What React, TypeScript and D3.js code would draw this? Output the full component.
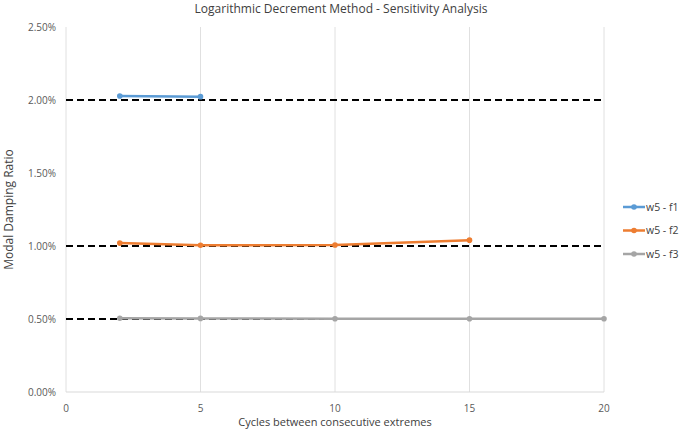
import React, { useEffect, useRef } from 'react';
import * as d3 from 'd3';

const xTicks = [0, 5, 10, 15, 20];
const yTicks = [0, 0.005, 0.01, 0.015, 0.02, 0.025];
const refLevels = [0.02, 0.01, 0.005];

const f1X = [2, 5];
const f1Y = [0.02027, 0.02023];
const f2X = [2, 5, 10, 15];
const f2Y = [0.0102, 0.01005, 0.01007, 0.0104];
const f3X = [2, 5, 10, 15, 20];
const f3Y = [0.00505, 0.00504, 0.00502, 0.00502, 0.00502];

const seriesNames = ['w5 - f1', 'w5 - f2', 'w5 - f3'];
const seriesColors = ['#5b9bd5', '#ed7d31', '#a5a5a5'];

export default function App() {
  const svgRef = useRef<SVGSVGElement>(null);

  useEffect(() => {
    if (!svgRef.current) return;
    const width = 685;
    const height = 432;
    const margin = { top: 27, right: 81, bottom: 40, left: 66 };
    const w = width - margin.left - margin.right;
    const h = height - margin.top - margin.bottom;
    const font = "'Open Sans', sans-serif";

    const svg = d3.select(svgRef.current);
    svg.selectAll('*').remove();

    const x = d3.scaleLinear().domain([0, 20]).range([0, w]);
    const y = d3.scaleLinear().domain([0, 0.025]).range([h, 0]);

    svg.append('rect').attr('width', width).attr('height', height).attr('fill', '#fff');

    svg.append('text')
      .attr('x', margin.left + w / 2 + 6)
      .attr('y', 13)
      .attr('text-anchor', 'middle')
      .attr('font-family', font)
      .attr('font-size', 12)
      .attr('fill', '#404040')
      .text('Logarithmic Decrement Method - Sensitivity Analysis');

    const g = svg.append('g').attr('transform', `translate(${margin.left},${margin.top})`);

    // vertical grid
    g.selectAll('.vgrid')
      .data(xTicks)
      .enter().append('line')
      .attr('x1', d => x(d)).attr('x2', d => x(d))
      .attr('y1', 0).attr('y2', h)
      .attr('stroke', '#e0e0e0')
      .attr('stroke-width', 1);

    // bottom axis line
    g.append('line')
      .attr('x1', 0).attr('x2', w)
      .attr('y1', h).attr('y2', h)
      .attr('stroke', '#d9d9d9');

    // x tick labels
    g.selectAll('.xt')
      .data(xTicks)
      .enter().append('text')
      .attr('x', d => x(d))
      .attr('y', h + 20)
      .attr('text-anchor', 'middle')
      .attr('font-family', font)
      .attr('font-size', 10)
      .attr('fill', '#595959')
      .text(d => d);

    // y tick labels
    g.selectAll('.yt')
      .data(yTicks)
      .enter().append('text')
      .attr('x', -10)
      .attr('y', d => y(d))
      .attr('dy', '0.35em')
      .attr('text-anchor', 'end')
      .attr('font-family', font)
      .attr('font-size', 10)
      .attr('fill', '#595959')
      .text(d => d3.format('.2%')(d));

    // reference dashed lines
    g.selectAll('.ref')
      .data(refLevels)
      .enter().append('line')
      .attr('x1', 0).attr('x2', w)
      .attr('y1', d => y(d)).attr('y2', d => y(d))
      .attr('stroke', '#000')
      .attr('stroke-width', 2)
      .attr('stroke-dasharray', '7,4');

    const series = [
      { xs: f1X, ys: f1Y },
      { xs: f2X, ys: f2Y },
      { xs: f3X, ys: f3Y },
    ];

    const line = d3.line<[number, number]>().x(d => x(d[0])).y(d => y(d[1]));

    series.forEach((s, i) => {
      const pts: [number, number][] = s.xs.map((v, j) => [v, s.ys[j]]);
      g.append('path')
        .attr('d', line(pts)!)
        .attr('fill', 'none')
        .attr('stroke', seriesColors[i])
        .attr('stroke-width', 2.5)
        .attr('stroke-linejoin', 'round');
      g.selectAll(`.pt${i}`)
        .data(pts)
        .enter().append('circle')
        .attr('cx', d => x(d[0]))
        .attr('cy', d => y(d[1]))
        .attr('r', 2.8)
        .attr('fill', seriesColors[i]);
    });

    // y axis title
    svg.append('text')
      .attr('transform', `translate(13,${margin.top + h / 2}) rotate(-90)`)
      .attr('text-anchor', 'middle')
      .attr('font-family', font)
      .attr('font-size', 12)
      .attr('fill', '#404040')
      .text('Modal Damping Ratio');

    // x axis title
    svg.append('text')
      .attr('x', margin.left + w / 2)
      .attr('y', height - 6)
      .attr('text-anchor', 'middle')
      .attr('font-family', font)
      .attr('font-size', 11)
      .attr('fill', '#404040')
      .text('Cycles between consecutive extremes');

    // legend
    const legend = svg.append('g').attr('transform', 'translate(623,207)');
    seriesNames.forEach((name, i) => {
      const ly = i * 23.5;
      legend.append('line')
        .attr('x1', 0).attr('x2', 22)
        .attr('y1', ly).attr('y2', ly)
        .attr('stroke', seriesColors[i])
        .attr('stroke-width', 2.5);
      legend.append('circle')
        .attr('cx', 11).attr('cy', ly).attr('r', 2.8)
        .attr('fill', seriesColors[i]);
      legend.append('text')
        .attr('x', 23)
        .attr('y', ly)
        .attr('dy', '0.35em')
        .attr('font-family', font)
        .attr('font-size', 10.5)
        .attr('fill', '#404040')
        .text(name);
    });
  }, []);

  return (
    <div style={{ position: 'fixed', left: 0, top: 0, width: 685, height: 432 }}>
      <svg ref={svgRef} width={685} height={432} style={{ display: 'block' }} />
    </div>
  );
}
